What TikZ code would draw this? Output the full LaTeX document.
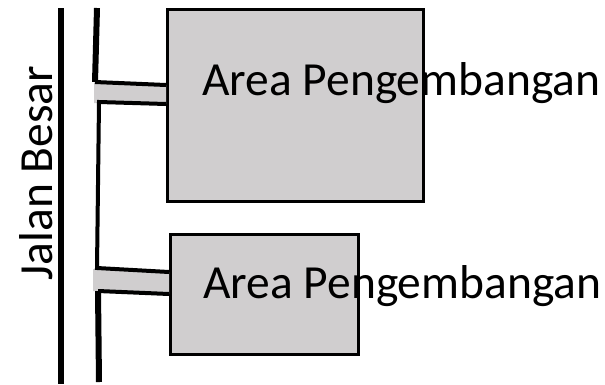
\documentclass[tikz,border=0pt]{standalone}
\usepackage{fontspec}
\setmainfont{Carlito}
\definecolor{plotgray}{RGB}{208,206,207}
\begin{document}
\begin{tikzpicture}[x=1pt,y=-1pt,
  plot/.style={draw=black,line width=2.5pt,fill=plotgray,inner sep=0pt,anchor=north west},
  road/.style={fill=plotgray,draw=none},
  edge/.style={line width=4pt},
  thickedge/.style={line width=6pt},
  label/.style={font=\fontsize{47.5}{52}\selectfont,inner sep=0pt,anchor=base west}]
\useasboundingbox (0,0) rectangle (605,384);

% development plots
\node[plot,minimum width=256pt,minimum height=192pt] (plotA) at (166,8) {};
\node[plot,minimum width=188pt,minimum height=120pt] (plotB) at (169,233) {};

% access roads (grey strips cut through the kerb and plot edge)
\fill[road] (94,83) -- (plotA.west |- 0,85) -- (plotA.west |- 0,104) -- (94,103) -- cycle;
\fill[road] (93,269) -- (plotB.west |- 0,272) -- (plotB.west |- 0,294) -- (93,291) -- cycle;

% outer edge of Jalan Besar
\coordinate (roadTop) at (61,8);
\coordinate (roadBot) at (61,384);
\draw[thickedge] (roadTop) -- (roadBot);

% inner kerb with the two access openings
\coordinate (k0) at (97,8);
\coordinate (k1) at (95,82);
\coordinate (k2) at (plotA.west |- 0,85);
\coordinate (k3) at (99,102);
\coordinate (k4) at (plotA.west |- 0,104);
\coordinate (k5) at (97,268);
\coordinate (k6) at (plotB.west |- 0,272);
\coordinate (k7) at (98,291);
\coordinate (k8) at (plotB.west |- 0,294);
\coordinate (k9) at (99,382);
\draw[thickedge] (k0) -- (k1);
\draw[edge,line join=miter] (k1) -- (k2);
\draw[edge] (k4) -- (k3) -- (k5) -- (k6);
\draw[edge] (k8) -- (k7);
\draw[thickedge] (k7) -- (k9);

% labels
\node[label] (labA) at (202,95) {Area Pengembangan};
\node[label] (labB) at (203,298) {Area Pengembangan};
\node[label,anchor=base,rotate=90] (labRoad) at (52,173) {Jalan Besar};
\end{tikzpicture}
\end{document}
